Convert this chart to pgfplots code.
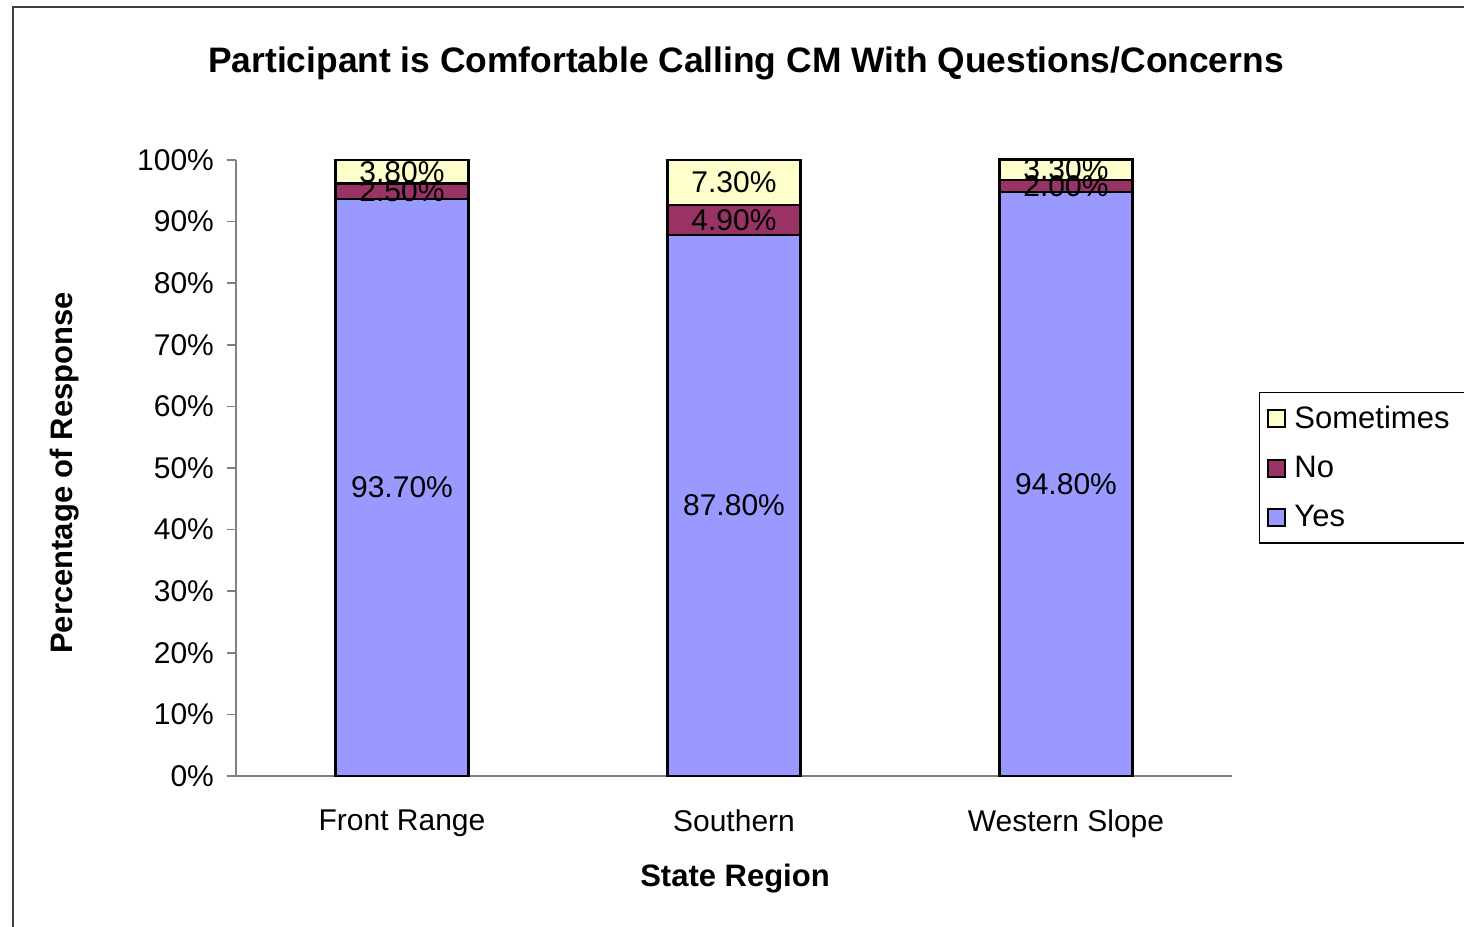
\documentclass[border=0pt]{standalone}
\usepackage{fontspec}
\setmainfont{Liberation Sans}
\usepackage{pgfplots}
\pgfplotsset{compat=1.18}

\definecolor{yescol}{HTML}{9999FF}
\definecolor{nocol}{HTML}{993366}
\definecolor{somecol}{HTML}{FFFFCC}
\definecolor{axgray}{HTML}{808080}

\begin{document}
\begin{tikzpicture}
\useasboundingbox (-118pt,-75.5pt) rectangle (614pt,388pt);
\draw[line width=0.8pt,black!75] (-111.5pt,-80pt) -- (-111.5pt,384.5pt) -- (620pt,384.5pt);
\begin{axis}[
  at={(0,0)}, anchor=south west,
  scale only axis,
  width=498pt, height=308pt,
  ybar stacked,
  bar width=66.5pt,
  xmin=-0.5, xmax=2.5,
  ymin=0, ymax=100,
  xtick={0,1,2},
  xticklabels={Front Range,Southern,Western Slope},
  minor xtick={-0.5,0.5,1.5,2.5},
  ytick={0,10,...,100},
  yticklabel={\pgfmathprintnumber{\tick}\%},
  /pgf/number format/assume math mode=true,
  axis x line*=bottom, axis y line*=left,
  axis line style={axgray,line width=0.8pt,-},
  tick align=outside,
  major tick length=4.5pt, minor tick length=4.5pt,
  xtick style={draw=none},
  minor x tick style={axgray,line width=0.8pt},
  ytick style={axgray,line width=0.8pt},
  tick label style={font=\fontsize{15}{18}\selectfont,black},
  xticklabel style={yshift=-9pt},
  yticklabel style={xshift=-3pt},
  title={\textbf{Participant is Comfortable Calling CM With Questions/Concerns}},
  title style={at={(rel axis cs:0.512,1)}, yshift=42.5pt, anchor=center, font=\fontsize{17.7}{20}\selectfont},
  xlabel={\textbf{State Region}},
  ylabel={\textbf{Percentage of Response}},
  every axis x label/.style={at={(rel axis cs:0.501,0)}, yshift=-51.5pt, anchor=center, font=\fontsize{15.5}{18}\selectfont},
  every axis y label/.style={at={(rel axis cs:0,0.492)}, xshift=-85.5pt, rotate=90, anchor=center, font=\fontsize{15.5}{18}\selectfont},
  legend style={at={(rel axis cs:1.027,0.623)}, anchor=north west, draw=black, line width=0.6pt,
    font=\fontsize{15.5}{18}\selectfont, row sep=8.5pt, inner xsep=4pt, inner ysep=4.5pt,
    nodes={inner xsep=4pt}},
  legend cell align=left,
  reverse legend,
  legend image code/.code={\draw[#1,draw=black,line width=1pt] (0pt,-4.25pt) rectangle (8.5pt,4.25pt);},
  every axis plot/.append style={draw=black, line width=1.2pt},
  point meta=rawy,
  nodes near coords={\pgfmathprintnumber[fixed,fixed zerofill,precision=2]{\pgfplotspointmeta}\%},
  every node near coord/.append style={font=\fontsize{15}{17}\selectfont, black, anchor=center},
  clip=false,
]
\addplot[fill=yescol] coordinates {(0,93.7) (1,87.8) (2,94.8)};
\addplot[fill=nocol] coordinates {(0,2.5) (1,4.9) (2,2.0)};
\addplot[fill=somecol] coordinates {(0,3.8) (1,7.3) (2,3.3)};
\legend{Yes,No,Sometimes}
\end{axis}
\end{tikzpicture}
\end{document}
